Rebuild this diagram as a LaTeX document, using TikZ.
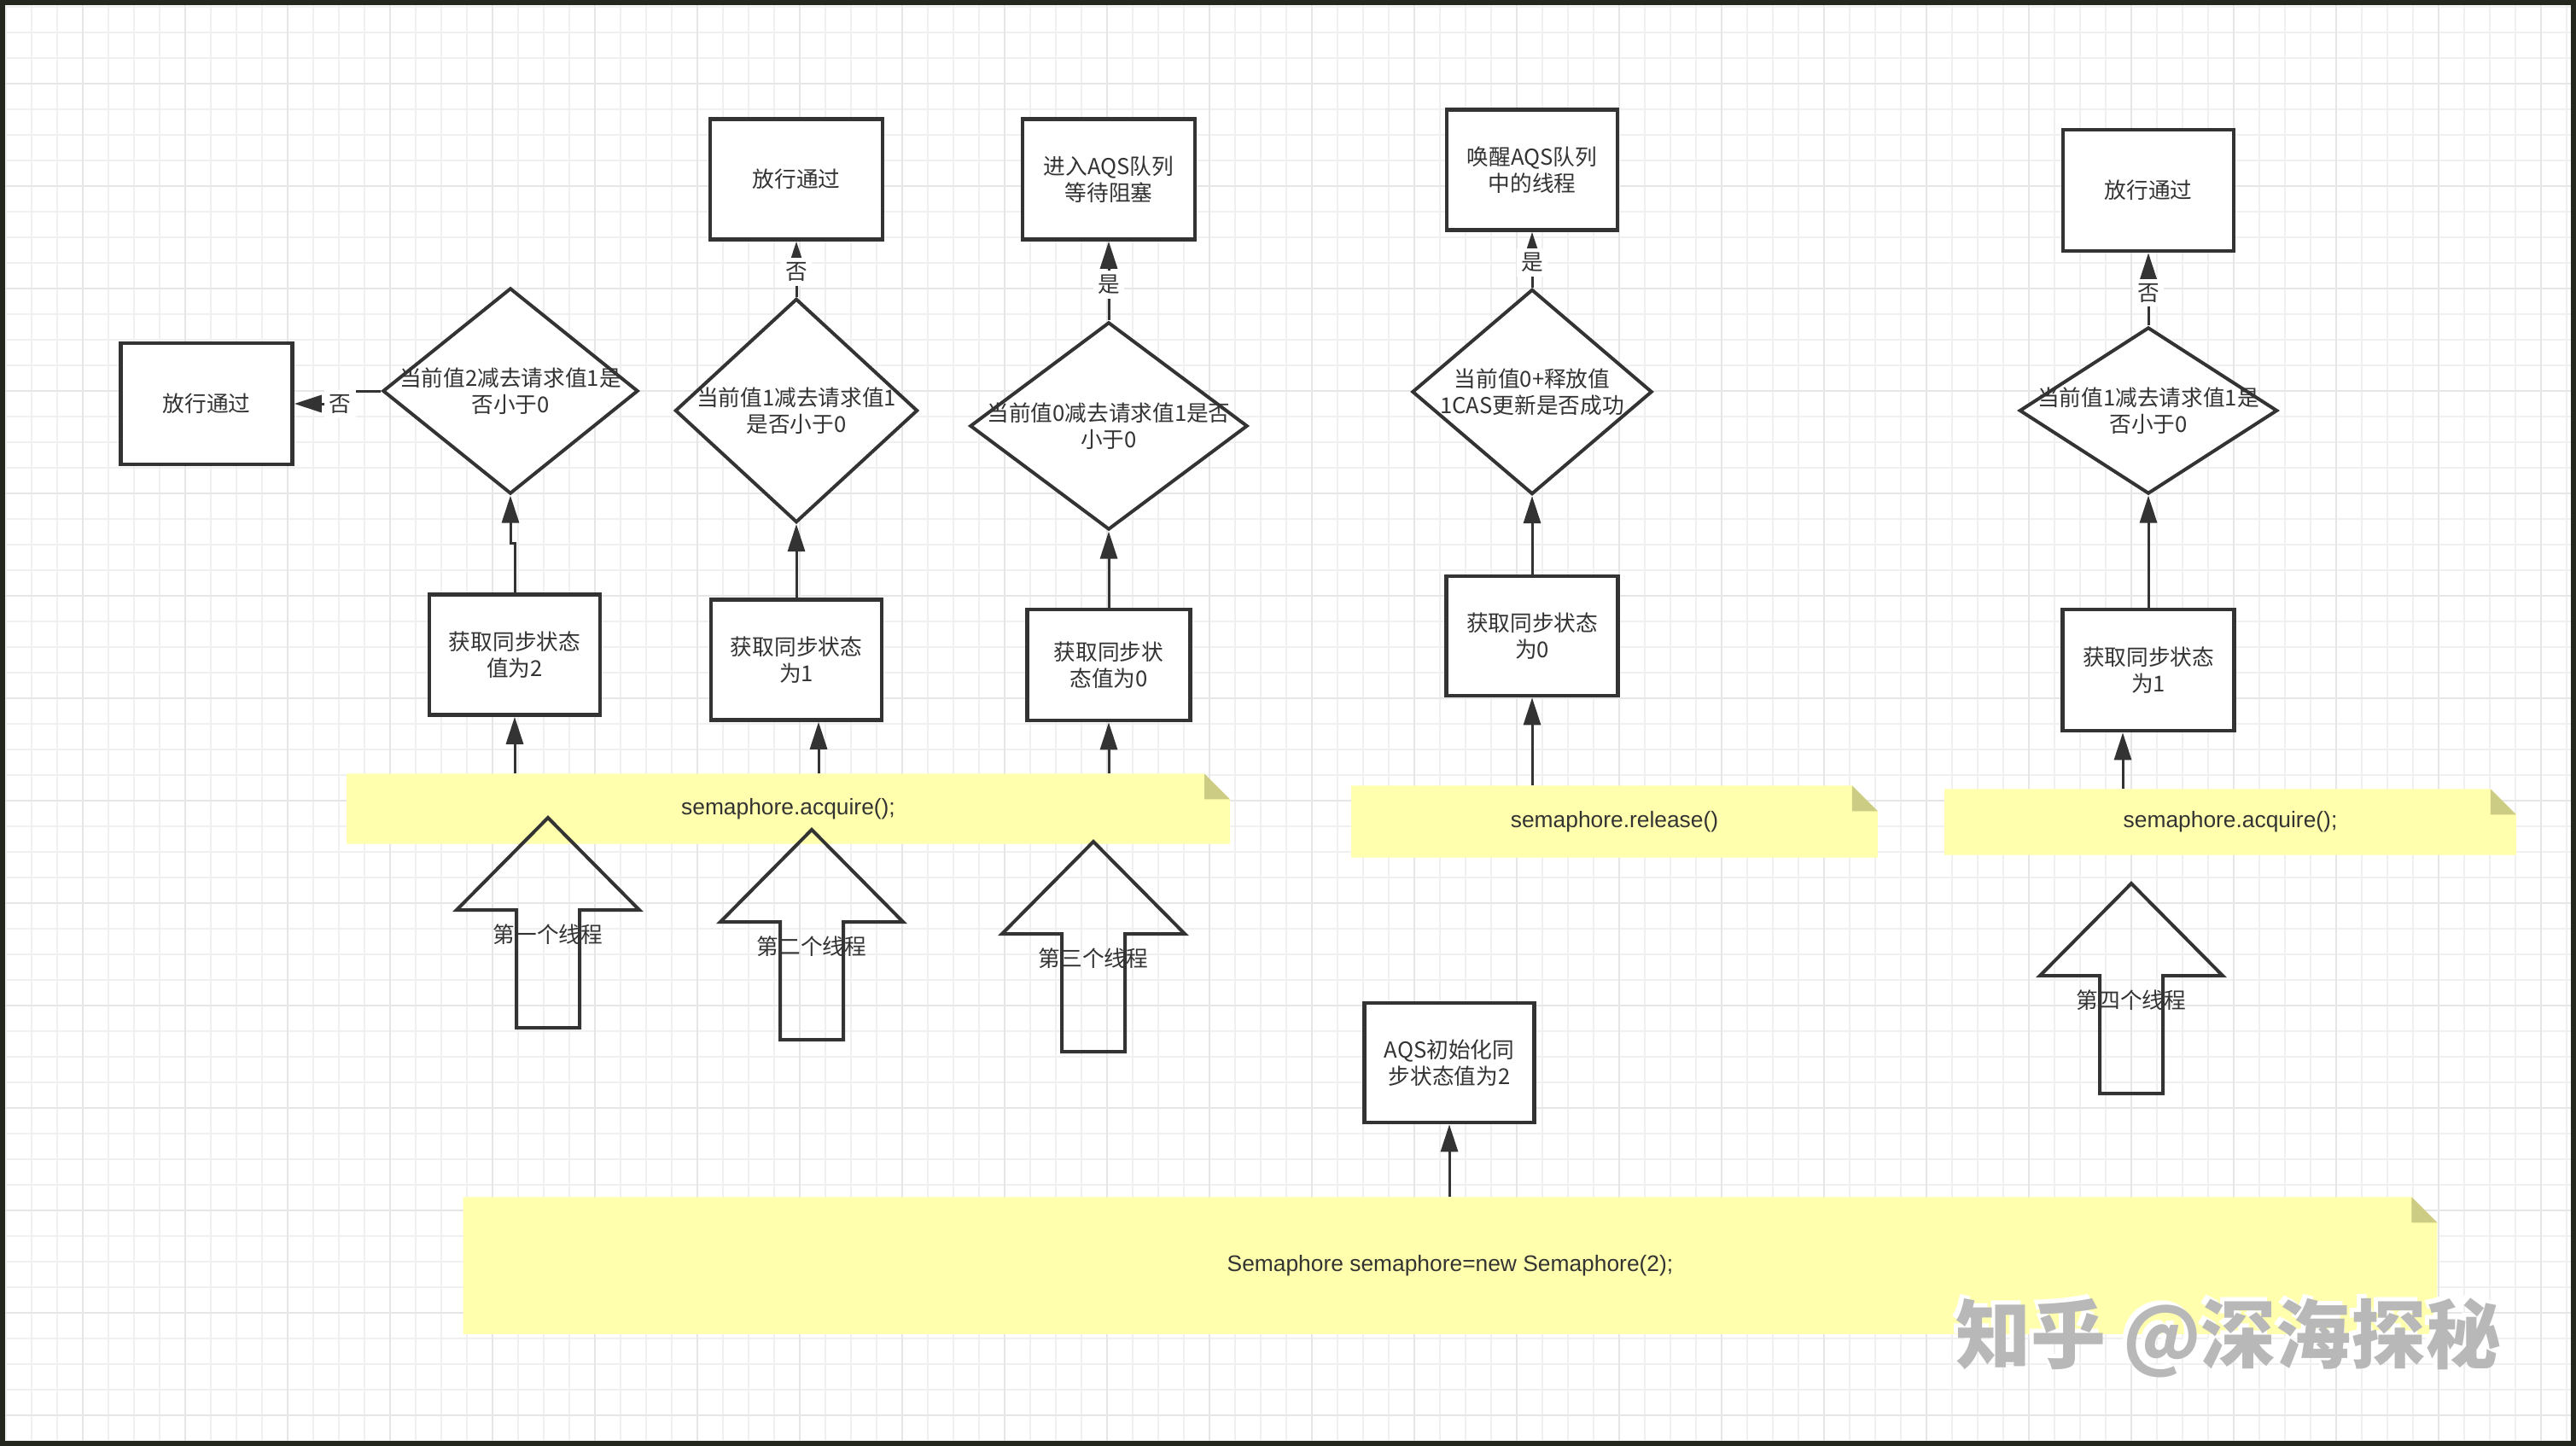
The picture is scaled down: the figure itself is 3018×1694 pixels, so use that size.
\documentclass[tikz,border=0pt]{standalone}
\usepackage{fontspec}
\setmainfont{Liberation Sans}
\newfontfamily\cjk{Noto Sans CJK SC}
\usetikzlibrary{shapes.geometric,arrows.meta,calc,backgrounds}
\definecolor{inkgray}{HTML}{333333}
\definecolor{noteyellow}{HTML}{FFFFAD}
\definecolor{notefold}{HTML}{CCCC85}
\definecolor{gridminor}{HTML}{F0F0F0}
\definecolor{gridmajor}{HTML}{E6E6E6}
\definecolor{framedark}{HTML}{23271D}
\definecolor{markgray}{HTML}{B8B8B8}
\tikzset{
   txt/.style={inner sep=0pt,align=center,text=inkgray,font=\cjk\fontsize{7.3pt}{8.9pt}\selectfont},
   box/.style={txt,draw=inkgray,line width=0.045cm,fill=white,minimum width=2cm,minimum height=1.41cm},
   dec/.style={diamond,draw=inkgray,line width=0.04cm,fill=white,inner sep=0pt},
   flow/.style={draw=inkgray,line width=0.03cm,-{Triangle[length=0.32cm,width=0.2cm]}},
   lbl/.style={txt,fill=white,inner sep=1.5pt},
   note/.style={inner sep=0pt,text=inkgray,font=\fontsize{7.5pt}{9pt}\selectfont},
   thread/.style={draw=inkgray,line width=0.04cm,line join=miter},
   watermark/.style={inner sep=0pt,font=\cjk\bfseries\fontsize{25pt}{28pt}\selectfont}
}
\begin{document}
\begin{tikzpicture}[x=0.01cm,y=-0.01cm]
   \useasboundingbox (0,0) rectangle (3018,1694);
   \begin{scope}[on background layer]
      \fill[white] (0,0) rectangle (3018,1694);
      \foreach \x in {7,37,...,3007} \draw[gridminor,line width=0.018cm] (\x,0) -- (\x,1694);
      \foreach \y in {8,38,...,1688} \draw[gridminor,line width=0.018cm] (0,\y) -- (3018,\y);
      \foreach \x in {97,217,...,2977} \draw[gridmajor,line width=0.022cm] (\x,0) -- (\x,1694);
      \foreach \y in {98,218,...,1658} \draw[gridmajor,line width=0.022cm] (0,\y) -- (3018,\y);
   \end{scope}

   \node[note,minimum width=10.33cm,minimum height=0.81cm] (note1) at (923.5,947.5) {semaphore.acquire();};
   \node[note,minimum width=6.15cm,minimum height=0.83cm] (note2) at (1891.5,962.5) {semaphore.release()};
   \node[note,minimum width=6.68cm,minimum height=0.76cm] (note3) at (2613,963) {semaphore.acquire();};
   \node[note,minimum width=23.1cm,minimum height=1.59cm] (note4) at (1699,1482.5) {Semaphore semaphore=new Semaphore(2);};
   \begin{scope}[on background layer]
      \foreach \n in {note1,note2,note3,note4} {
         \fill[noteyellow] (\n.south west) -- (\n.north west) -- ([xshift=-0.3cm]\n.north east)
            -- ([yshift=-0.3cm]\n.north east) -- (\n.south east) -- cycle;
         \fill[notefold] ([xshift=-0.3cm]\n.north east) -- ([xshift=-0.3cm,yshift=-0.3cm]\n.north east)
            -- ([yshift=-0.3cm]\n.north east) -- cycle;
      }
   \end{scope}

   \node[box,minimum width=2.01cm,minimum height=1.42cm] (pass1) at (242,473) {放行通过};
   \node[dec,minimum width=2.99cm,minimum height=2.41cm,label={[txt]center:{当前值2减去请求值1是\\否小于0}}] (d1) at (598,458) {};
   \node[box] (get1) at (603,767) {获取同步状态\\值为2};

   \node[box,minimum width=2.02cm] (pass2) at (933,210) {放行通过};
   \node[dec,minimum width=2.84cm,minimum height=2.62cm,label={[txt]center:{当前值1减去请求值1\\是否小于0}}] (d2) at (933,481) {};
   \node[box] (get2) at (933,773) {获取同步状态\\为1};

   \node[box,minimum width=2.02cm] (block) at (1299,210) {进入AQS队列\\等待阻塞};
   \node[dec,minimum width=3.25cm,minimum height=2.43cm,label={[txt]center:{当前值0减去请求值1是否\\小于0}}] (d3) at (1299,499) {};
   \node[box,minimum width=1.91cm,minimum height=1.3cm] (get3) at (1299,779) {获取同步状\\态值为0};

   \node[box] (wake) at (1795,199) {唤醒AQS队列\\中的线程};
   \node[dec,minimum width=2.81cm,minimum height=2.4cm,label={[txt]center:{当前值0+释放值\\1CAS更新是否成功}}] (d4) at (1795,459) {};
   \node[box,minimum width=2.01cm,minimum height=1.4cm] (get4) at (1795,745) {获取同步状态\\为0};

   \node[box,minimum height=1.42cm] (pass3) at (2517,223) {放行通过};
   \node[dec,minimum width=3.02cm,minimum height=1.95cm,label={[txt]center:{当前值1减去请求值1是\\否小于0}}] (d5) at (2517,481) {};
   \node[box,minimum width=2.01cm,minimum height=1.42cm] (get5) at (2517,785) {获取同步状态\\为1};

   \node[box,minimum width=1.99cm,minimum height=1.4cm] (init) at (1698,1245) {AQS初始化同\\步状态值为2};

   \coordinate (in2) at ($(get2.south)+(26,0)$);
   \coordinate (in5) at ($(get5.south)+(-30,0)$);

   \draw[flow] (get1.south |- note1.north) -- (get1.south);
   \draw[flow] (in2 |- note1.north) -- (in2);
   \draw[flow] (get3.south |- note1.north) -- (get3.south);
   \draw[flow] (get4.south |- note2.north) -- (get4.south);
   \draw[flow] (in5 |- note3.north) -- (in5);
   \draw[flow] (init.south |- note4.north) -- (init.south);

   \draw[flow] (get1.north) -- ++(0,-58) -| (d1.south);
   \draw[flow] (get2.north) -- (d2.south);
   \draw[flow] (get3.north) -- (d3.south);
   \draw[flow] (get4.north) -- (d4.south);
   \draw[flow] (get5.north) -- (d5.south);

   \draw[flow] (d1.west) -- ++(-48,0) |- node[lbl,pos=0.5] {否} (pass1.east);
   \draw[flow] (d2.north) -- node[lbl,pos=0.45] {否} (pass2.south);
   \draw[flow] (d3.north) -- node[lbl,pos=0.45] {是} (block.south);
   \draw[flow] (d4.north) -- node[lbl,pos=0.45] {是} (wake.south);
   \draw[flow] (d5.north) -- node[lbl,pos=0.45] {否} (pass3.south);

   \foreach \x/\y/\t [count=\i] in {642/958/第一个线程,951/972/第二个线程,1281/986/第三个线程,2497/1035/第四个线程} {
      \draw[thread] (\x,\y) -- ++(107,108) -- ++(-70,0) -- ++(0,138) -- ++(-74,0) -- ++(0,-138) -- ++(-70,0) -- cycle;
      \node[txt] (thread\i) at (\x,\y+137) {\t};
   }

   \node[watermark,white] (markhi) at (2606,1562) {知乎 @深海探秘};
   \node[watermark,markgray] (markzh) at (2611,1567) {知乎 @深海探秘};

   \draw[framedark,line width=0.06cm] (3,3) rectangle (3015,1691);
\end{tikzpicture}
\end{document}
